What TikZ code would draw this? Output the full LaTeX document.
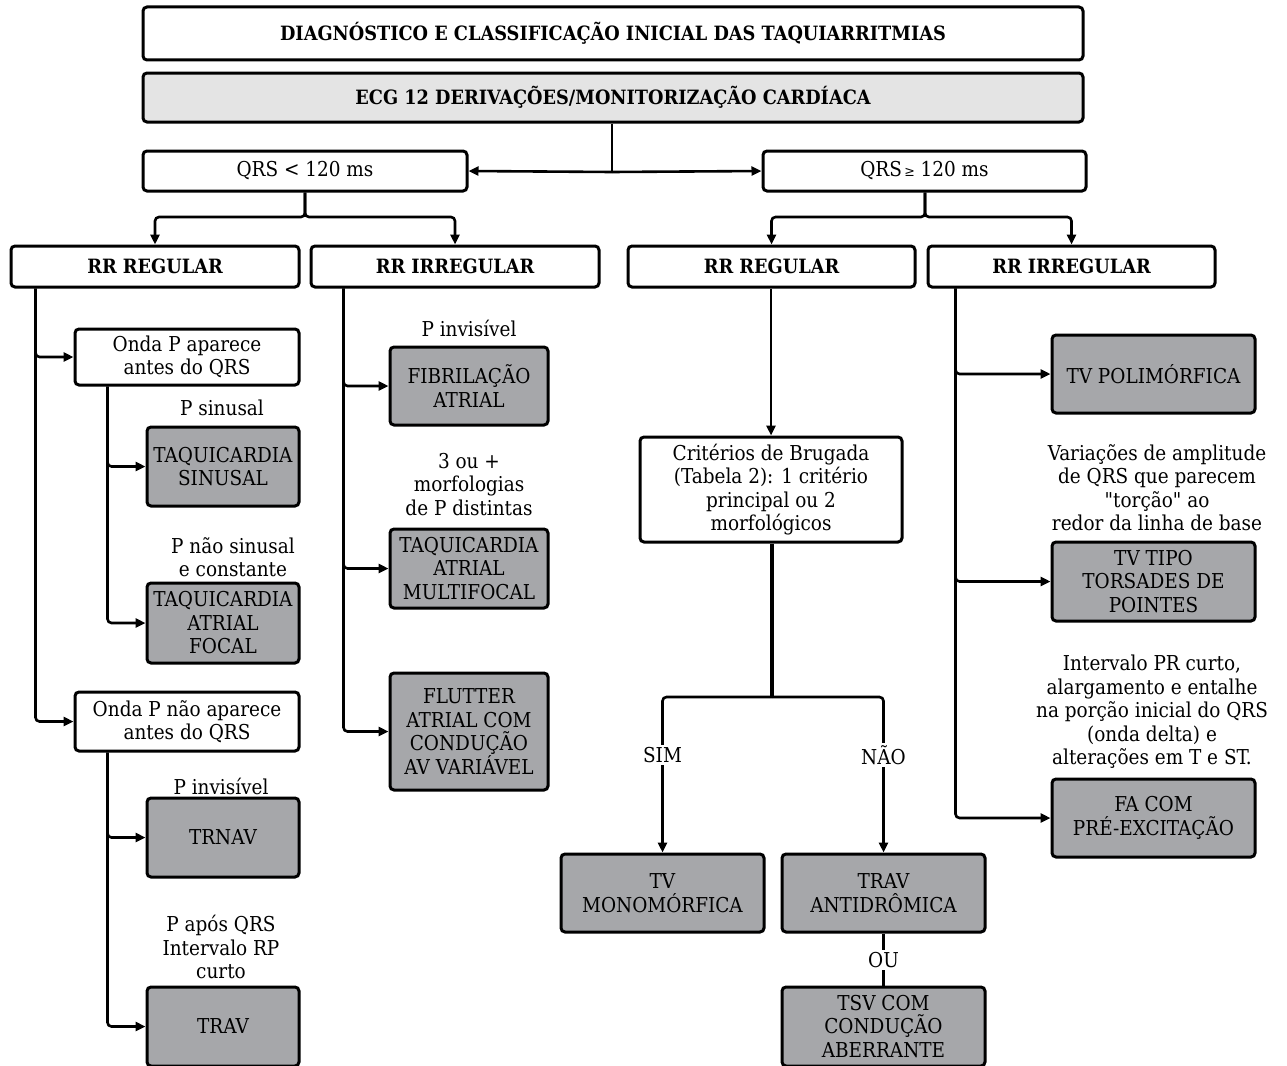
\documentclass[tikz,border=0pt]{standalone}
\usepackage{fontspec}
\setmainfont{DejaVu Serif Condensed}[Ligatures=TeXOff]
\usetikzlibrary{arrows.meta}
\definecolor{boxgray}{HTML}{A6A7AA}
\definecolor{headgray}{HTML}{E4E4E4}
\begin{document}
\begin{tikzpicture}[x=1pt,y=-1pt,
  every node/.style={font=\fontsize{20.5}{23.5}\selectfont, inner sep=0pt, align=center},
  wbox/.style={draw, line width=3pt, rounded corners=4pt, fill=white},
  gbox/.style={draw, line width=3pt, rounded corners=4pt, fill=boxgray},
  hbox/.style={wbox, font=\bfseries\fontsize{19.7}{23.5}\selectfont},
  conn/.style={line width=2.6pt, rounded corners=4pt},
  arr/.style={conn, -{Triangle[length=10pt,width=9pt]}},
  lbl/.style={fill=white, inner sep=2pt}
]
\useasboundingbox (0,0) rectangle (1287,1065);
\clip (0,0) rectangle (1287,1065);

% header
\node[hbox, minimum width=940, minimum height=53] (title) at (613,33.5) {DIAGNÓSTICO E CLASSIFICAÇÃO INICIAL DAS TAQUIARRITMIAS};
\node[hbox, fill=headgray, minimum width=940, minimum height=49] (ecg) at (613,97.5) {ECG 12 DERIVAÇÕES/MONITORIZAÇÃO CARDÍACA};

% QRS width split
\node[wbox, minimum width=324, minimum height=40] (qn) at (305,171) {QRS < 120 ms};
\node[wbox, minimum width=323, minimum height=40] (qw) at (924.5,171) {QRS{\fontsize{14}{14}\selectfont\,≥} 120 ms};

% rhythm boxes
\node[hbox, minimum width=288, minimum height=41] (rra) at (155,266.5) {RR REGULAR};
\node[hbox, minimum width=288, minimum height=41] (rrb) at (455,266.5) {RR IRREGULAR};
\node[hbox, minimum width=287, minimum height=41] (rrc) at (771.5,266.5) {RR REGULAR};
\node[hbox, minimum width=287, minimum height=41] (rrd) at (1071.5,266.5) {RR IRREGULAR};

% narrow QRS, regular
\node[wbox, minimum width=224, minimum height=56] (oa) at (187,357) {Onda P aparece\\antes do QRS};
\node[gbox, minimum width=152, minimum height=79] (ts) at (223,466.5) {TAQUICARDIA\\SINUSAL};
\node[gbox, minimum width=152, minimum height=80] (taf) at (223,623) {TAQUICARDIA\\ATRIAL\\FOCAL};
\node[wbox, minimum width=224, minimum height=59] (ona) at (187,721.5) {Onda P não aparece\\antes do QRS};
\node[gbox, minimum width=152, minimum height=79] (trnav) at (223,837.5) {TRNAV};
\node[gbox, minimum width=152, minimum height=79] (trav) at (223,1026.5) {TRAV};

% narrow QRS, irregular
\node[gbox, minimum width=158, minimum height=78] (fib) at (469,386) {FIBRILAÇÃO\\ATRIAL};
\node[gbox, minimum width=158, minimum height=79] (tam) at (469,568.5) {TAQUICARDIA\\ATRIAL\\MULTIFOCAL};
\node[gbox, minimum width=158, minimum height=117] (flu) at (469,731.5) {FLUTTER\\ATRIAL COM\\CONDUÇÃO\\AV VARIÁVEL};

% wide QRS, regular
\node[wbox, minimum width=262, minimum height=105] (crit) at (771,489.5) {Critérios de Brugada\\(Tabela 2): 1 critério\\principal ou 2\\morfológicos};
\node[gbox, minimum width=203, minimum height=78] (tvm) at (662.5,893) {TV\\MONOMÓRFICA};
\node[gbox, minimum width=203, minimum height=78] (tra) at (883.5,893) {TRAV\\ANTIDRÔMICA};
\node[gbox, minimum width=203, minimum height=79] (tsv) at (883.5,1026.5) {TSV COM\\CONDUÇÃO\\ABERRANTE};

% wide QRS, irregular
\node[gbox, minimum width=203, minimum height=78] (tvp) at (1153.5,374) {TV POLIMÓRFICA};
\node[gbox, minimum width=203, minimum height=79] (tvt) at (1153.5,581.5) {TV TIPO\\TORSADES DE\\POINTES};
\node[gbox, minimum width=203, minimum height=78] (fap) at (1153.5,818) {FA COM\\PRÉ-EXCITAÇÃO};

% free annotations
\node (lsin) at (222,408) {P sinusal};
\node (lnsin) at (233,557) {P não sinusal\\e constante};
\node (linv1) at (221,786) {P invisível};
\node (lapos) at (221,947) {P após QRS\\Intervalo RP\\curto};
\node (linv2) at (469,328) {P invisível};
\node (lmorf) at (469,484.5) {3 ou +\\morfologias\\de P distintas};
\node (ltor) at (1157,487.5) {Variações de amplitude\\de QRS que parecem\\"torção" ao\\redor da linha de base};
\node (lpr) at (1152,712) {Intervalo PR curto,\\alargamento e entalhe\\na porção inicial do QRS\\(onda delta) e\\alterações em T e ST.};

% connectors
\coordinate (top) at (612,172);
\draw[conn] (ecg.south -| top) -- (top);
\draw[arr] (top) -- (qn.east);
\draw[arr] (top) -- (qw.west);

\coordinate (jn) at (305,217);
\draw[arr] (qn.south -| jn) -- (jn) -| (rra.north);
\draw[arr] (qn.south -| jn) -- (jn) -| (rrb.north);
\coordinate (jw) at (925,217);
\draw[arr] (qw.south -| jw) -- (jw) -| (rrc.north);
\draw[arr] (qw.south -| jw) -- (jw) -| (rrd.north);

\draw[arr] (rra.south west) ++(26,0) |- (oa.west);
\draw[arr] (rra.south west) ++(26,0) |- (ona.west);
\draw[arr] (oa.south west) ++(34,0) |- (ts.west);
\draw[arr] (oa.south west) ++(34,0) |- (taf.west);
\draw[arr] (ona.south west) ++(34,0) |- (trnav.west);
\draw[arr] (ona.south west) ++(34,0) |- (trav.west);

\draw[arr] (rrb.south west) ++(34,0) |- (fib.west);
\draw[arr] (rrb.south west) ++(34,0) |- (tam.west);
\draw[arr] (rrb.south west) ++(34,0) |- (flu.west);

\draw[arr] (rrc.south -| crit.north) -- (crit.north);
\coordinate (jb) at (772,697);
\draw[conn, line width=4pt] (crit.south -| jb) -- (jb);
\draw[arr] (jb) -| (tvm.north);
\draw[arr] (jb) -| (tra.north);
\draw[conn] (tra.south) -- (tsv.north);

\draw[arr] (rrd.south west) ++(29,0) |- (tvp.west);
\draw[arr] (rrd.south west) ++(29,0) |- (tvt.west);
\draw[arr] (rrd.south west) ++(29,0) |- (fap.west);

% branch labels sitting on the lines
\node[lbl] (sim) at (662.5,755) {SIM};
\node[lbl] (nao) at (883.5,755) {NÃO};
\node[lbl] (ou) at (883.5,960) {OU};
\end{tikzpicture}
\end{document}
